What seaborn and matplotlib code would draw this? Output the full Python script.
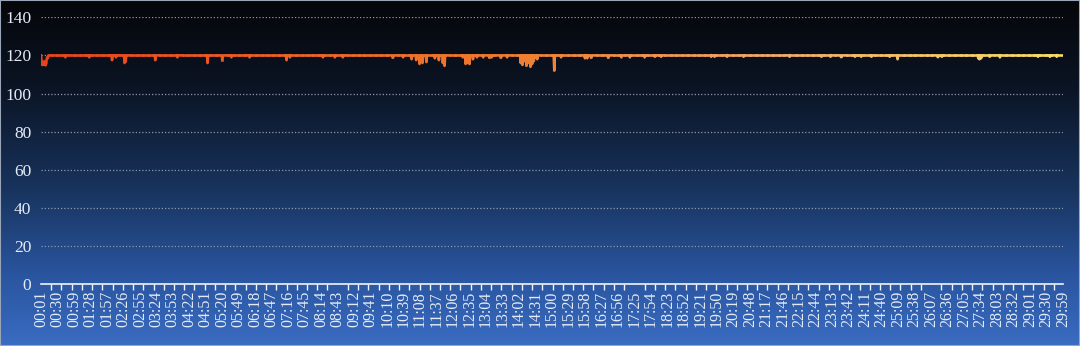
import numpy as np
import pandas as pd
import matplotlib
matplotlib.use("Agg")
import matplotlib.pyplot as plt
import seaborn as sns
from matplotlib.colors import LinearSegmentedColormap
from matplotlib.patches import Rectangle
from matplotlib.ticker import FixedLocator

# ---------------- data ----------------
seconds_start = 1
seconds_end = 1799
baseline_fps = 120

dip_seconds = [2, 3, 4, 5, 6, 7, 8, 9, 10, 11, 12, 13,
               44, 86, 126, 133, 148, 150, 202, 241, 294, 320, 336, 368,
               433, 439, 497, 518, 532, 620, 638, 653, 661, 667, 672, 679,
               694, 701, 708, 711, 743, 748, 752, 755, 761, 768, 779, 790,
               794, 810, 821, 845, 848, 851, 855, 858, 862, 865, 868, 870,
               874, 904, 916, 958, 962, 969, 999, 1022, 1037, 1063, 1081,
               1092, 1180, 1186, 1208, 1237, 1318, 1374, 1390, 1409, 1433,
               1444, 1462, 1494, 1508, 1579, 1586, 1650, 1652, 1655, 1670,
               1688, 1755, 1776, 1788]
dip_fps = [117, 115, 116, 115, 115.5, 117, 115, 114.8, 116, 118, 119, 118.5,
           119, 119, 117.5, 119, 116, 117, 117.5, 119, 116, 117.5, 119, 119,
           117.5, 119, 119, 119, 119, 119, 119, 118, 117.5, 115.5, 116, 116.5,
           118.5, 117.5, 116, 114.5, 119, 115.5, 116, 115.5, 118, 119, 119, 119,
           119, 119, 119, 116, 115, 117, 114.5, 116, 114, 115.5, 117, 119,
           118, 112, 119, 118.5, 118.5, 119, 119, 119, 119, 119, 119.3,
           119.3, 119.3, 119.3, 119.3, 119.3, 119.3, 119.3, 119.3, 119.3, 119.3,
           119.3, 119.3, 119.3, 118, 119.3, 119.3, 118.5, 118, 118.5, 119.3,
           119, 119.3, 119.3, 119.3]

tick_labels = ["00:01", "00:30", "00:59", "01:28", "01:57", "02:26", "02:55",
               "03:24", "03:53", "04:22", "04:51", "05:20", "05:49", "06:18",
               "06:47", "07:16", "07:45", "08:14", "08:43", "09:12", "09:41",
               "10:10", "10:39", "11:08", "11:37", "12:06", "12:35", "13:04",
               "13:33", "14:02", "14:31", "15:00", "15:29", "15:58", "16:27",
               "16:56", "17:25", "17:54", "18:23", "18:52", "19:21", "19:50",
               "20:19", "20:48", "21:17", "21:46", "22:15", "22:44", "23:13",
               "23:42", "24:11", "24:40", "25:09", "25:38", "26:07", "26:36",
               "27:05", "27:34", "28:03", "28:32", "29:01", "29:30", "29:59"]
y_ticks = [0, 20, 40, 60, 80, 100, 120, 140]

# ---------------- build series ----------------
seconds = np.arange(seconds_start, seconds_end + 1)
fps = np.full(seconds.size, float(baseline_fps))
for s, v in zip(dip_seconds, dip_fps):
    fps[s - seconds_start] = v

line_cmap = LinearSegmentedColormap.from_list(
    "fpsline", [(0.0, "#e8441c"), (0.45, "#ee7a2e"), (0.72, "#f0a86a"), (1.0, "#f8dc66")])

n_chunks = 180
edges = np.linspace(0, seconds.size - 1, n_chunks + 1).astype(int)
frames = []
for i in range(n_chunks):
    a, b = edges[i], edges[i + 1]
    frames.append(pd.DataFrame({"second": seconds[a:b + 1], "fps": fps[a:b + 1], "seg": i}))
df = pd.concat(frames, ignore_index=True)
palette = {i: line_cmap(i / (n_chunks - 1)) for i in range(n_chunks)}

# ---------------- figure ----------------
W, H = 1080, 346
fig = plt.figure(figsize=(W / 100, H / 100), dpi=100)

bg_cmap = LinearSegmentedColormap.from_list(
    "bg", [(0.0, "#050609"), (0.25, "#0b1424"), (0.55, "#18345e"), (0.8, "#2a55a0"), (1.0, "#3a6cc2")])
bg_ax = fig.add_axes([0, 0, 1, 1], zorder=-1)
grad = np.linspace(0, 1, 256).reshape(-1, 1)
bg_ax.imshow(grad, aspect="auto", cmap=bg_cmap, extent=[0, 1, 0, 1], origin="upper")
bg_ax.set_axis_off()
fig.patches.append(Rectangle((0, 0), 1, 1, transform=fig.transFigure, fill=False,
                             edgecolor="#9aa6b8", linewidth=1.5, zorder=10))

ax = fig.add_axes([41 / W, 62 / H, (1063 - 41) / W, (284 - 17.3) / H])
ax.set_facecolor("none")

sns.lineplot(data=df, x="second", y="fps", hue="seg", palette=palette, legend=False,
             estimator=None, sort=True, linewidth=1.9, ax=ax, zorder=3)

ax.set_xlim(seconds_start, seconds_end)
ax.set_ylim(0, 140)
ax.set_xlabel("")
ax.set_ylabel("")

font = "Liberation Serif"
label_positions = [seconds_start + 29 * i for i in range(len(tick_labels))]
ax.set_xticks(label_positions)
ax.set_xticklabels(tick_labels, rotation=90, family=font, fontsize=11.5, color="#e6ecf6")
minor_positions = list(range(seconds_start, seconds_end + 1, 18)) + [seconds_end]
ax.xaxis.set_minor_locator(FixedLocator(minor_positions))
ax.tick_params(axis="x", which="major", length=0, pad=5)
ax.tick_params(axis="x", which="minor", length=4, width=1, color="#f0f4fa", direction="out")

ax.set_yticks(y_ticks)
ax.set_yticklabels([str(v) for v in y_ticks], family=font, fontsize=12.5, color="#e6ecf6")
ax.tick_params(axis="y", length=0, pad=7)

ax.grid(axis="y", color="#8e97a8", linestyle=(0, (1, 1.6)), linewidth=0.9, zorder=1)
ax.grid(axis="x", visible=False)
for side in ["left", "right", "top"]:
    ax.spines[side].set_visible(False)
ax.spines["bottom"].set_color("#f0f4fa")
ax.spines["bottom"].set_linewidth(1.2)
ax.spines["bottom"].set_zorder(4)

fig.savefig("out.png", dpi=100)
